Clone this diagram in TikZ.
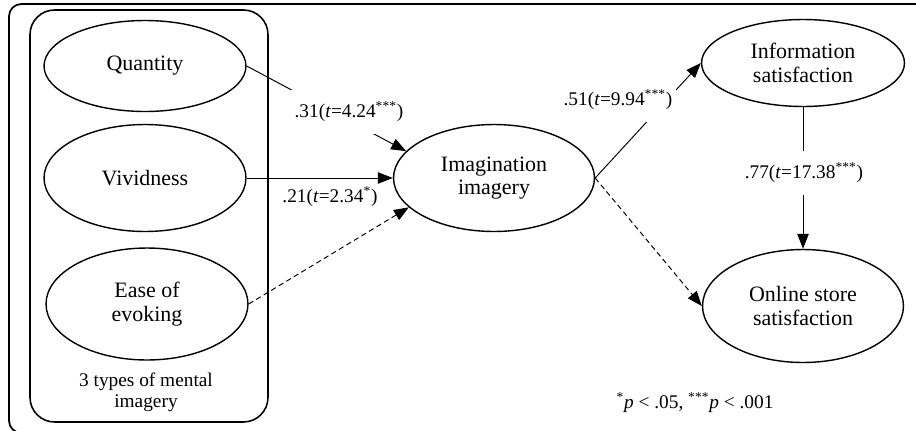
\documentclass[tikz,border=0pt]{standalone}
\usepackage{fontspec}
\setmainfont{Liberation Serif}
\usetikzlibrary{positioning,calc}
\usetikzlibrary{arrows.meta,shapes.geometric}
\tikzset{
  var/.style={ellipse,draw=black,line width=0.8pt,inner sep=0pt,align=center,
    font=\fontsize{12.5}{13.5}\selectfont},
  arc/.style={draw=black,line width=0.55pt,-{Triangle[length=8.5pt,width=6.5pt]}},
  coef/.style={fill=white,inner xsep=2pt,inner ysep=7pt,font=\fontsize{11}{13}\selectfont},
}
\tikzset{frame/.style={draw=black,line width=1pt}, note/.style={align=center,font=\fontsize{11}{12}\selectfont}}

\begin{document}
\begin{tikzpicture}[x=0.02cm,y=-0.02cm]
\useasboundingbox (0,0) rectangle (916,430);
\clip (0,0) rectangle (916,430);
\draw[frame,rounded corners=7pt] (9,4) rectangle (945,433);
\draw[frame,line width=0.9pt,rounded corners=14pt] (30,10) rectangle (268,422);
\node[var,minimum width=4.04cm,minimum height=1.82cm] (quan) at (145,66) {Quantity};
\node[var,minimum width=4.04cm,minimum height=2.14cm] (viv) at (145,178) {Vividness};
\node[var,minimum width=4.04cm,minimum height=2.24cm] (ease) at (147,304) {Ease of\\evoking};
\node[var,minimum width=4.02cm,minimum height=2.14cm] (imag) at (494,178) {Imagination\\imagery};
\node[var,minimum width=4.06cm,minimum height=1.74cm] (info) at (803,63) {Information\\satisfaction};
\node[var,minimum width=4.02cm,minimum height=2.26cm] (online) at (803,306) {Online store\\satisfaction};
\draw[arc] (quan.east) -- (imag.163);
\draw[arc] (viv) -- (imag);
\draw[arc,dash pattern=on 3pt off 2pt] (ease.east) -- (imag.199);
\draw[arc] (imag.east) -- (info.west);
\draw[arc,dash pattern=on 3pt off 2pt] (imag.east) -- (online.west);
\draw[arc] (info.south) -- (online.north);
\node[coef] (c1) at (349,112) {.31(\textit{t}=4.24\textsuperscript{***})};
\node[coef,fill=none] (c2) at (330,197) {.21(\textit{t}=2.34\textsuperscript{*})};
\node[coef] (c3) at (618,100) {.51(\textit{t}=9.94\textsuperscript{***})};
\node[coef] (c4) at (804,173) {.77(\textit{t}=17.38\textsuperscript{***})};
\node[note] (grp) at (146,392) {3 types of mental\\imagery};
\node[note] (sig) at (695,403) {\textsuperscript{*}\textit{p} < .05, \textsuperscript{***}\textit{p} < .001};
\end{tikzpicture}
\end{document}
